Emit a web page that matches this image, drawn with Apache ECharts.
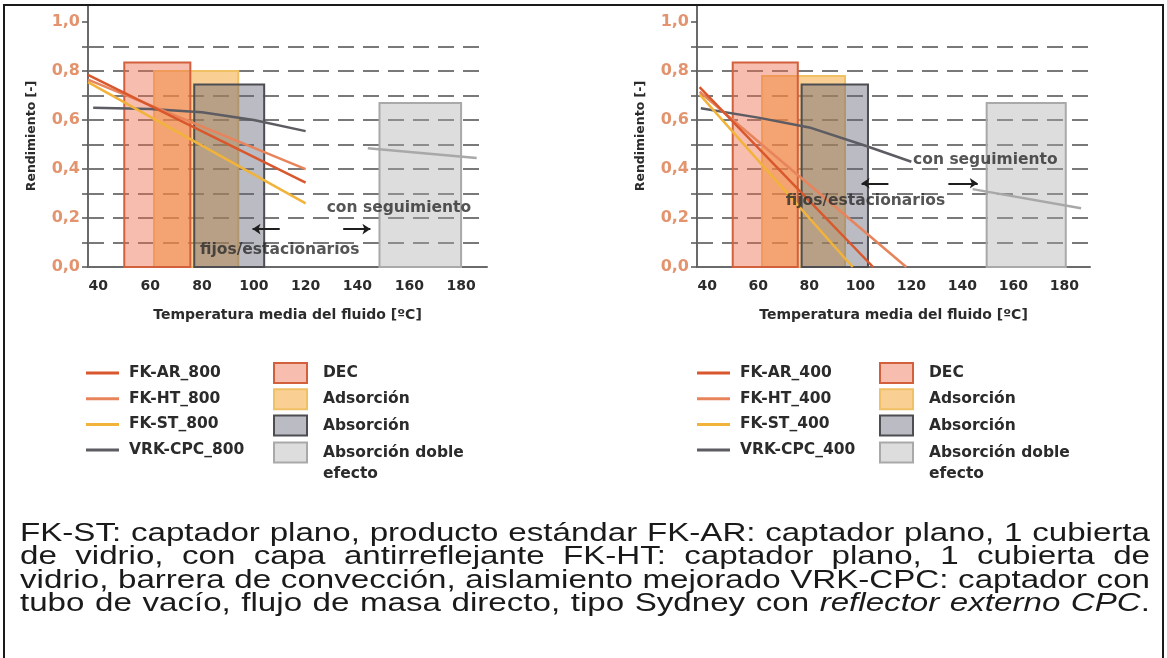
<!DOCTYPE html>
<html>
<head>
<meta charset="utf-8">
<script src="https://cdn.jsdelivr.net/npm/echarts@6/dist/echarts.min.js"></script>
<style>
html,body{margin:0;padding:0;background:#fff;}
#wrap{position:relative;width:1167px;height:658px;overflow:hidden;background:#fff;}
#chart{position:absolute;left:0;top:0;width:1167px;height:658px;}
#frame{position:absolute;left:3px;top:4px;width:1157px;height:700px;border:2px solid #1a1a1a;pointer-events:none;}
#note{position:absolute;left:20px;top:521px;font-family:'Liberation Sans',Arial,sans-serif;font-size:25px;line-height:23.4px;color:#1a1a1a;transform-origin:0 0;}
#note div{text-align:justify;text-align-last:justify;}
#note span{white-space:nowrap;}
</style>
</head>
<body>
<div id="wrap">
  <div id="chart"></div>
  <div id="frame"></div>
  <div id="note">
    <div><span>FK-ST: captador plano, producto estándar FK-AR: captador plano, 1 cubierta</span></div>
    <div><span>de vidrio, con capa antirreflejante FK-HT: captador plano, 1 cubierta de</span></div>
    <div><span>vidrio, barrera de convección, aislamiento mejorado VRK-CPC: captador con</span></div>
    <div><span>tubo de vacío, flujo de masa directo, tipo Sydney con <i>reflector externo CPC</i>.</span></div>
  </div>
</div>
<script>
// ---- data ----
const xLabelVals = [40, 60, 80, 100, 120, 140, 160, 180];
const yTickVals = [0, 0.1, 0.2, 0.3, 0.4, 0.5, 0.6, 0.7, 0.8, 0.9, 1.0];
const yLabelVals = [0, 0.2, 0.4, 0.6, 0.8, 1.0];

// boxes: [x start, x end, height]
const decLeft = [50, 75.5, 0.835];
const adsLeft = [61.5, 94, 0.80];
const absLeft = [77, 104, 0.745];
const dobleLeft = [148.5, 180, 0.67];
const decRight = [50, 75.5, 0.835];
const adsRight = [61.5, 94, 0.78];
const absRight = [77, 103, 0.745];
const dobleRight = [149.5, 180.5, 0.67];

// efficiency curves [temperature, efficiency]
const fkAr800 = [[36, 0.785], [120, 0.345]];
const fkHt800 = [[36, 0.765], [120, 0.40]];
const fkSt800 = [[36, 0.755], [120, 0.26]];
const vrk800 = [[38, 0.65], [60, 0.645], [80, 0.632], [100, 0.60], [120, 0.555]];
const vrkTrack800 = [[144, 0.485], [186, 0.445]];

const fkAr400 = [[37, 0.735], [105, 0]];
const fkHt400 = [[37, 0.716], [118, 0]];
const fkSt400 = [[37, 0.705], [97, 0]];
const vrk400 = [[37.5, 0.648], [60, 0.61], [80, 0.57], [102, 0.495], [120, 0.43]];
const vrkTrack400 = [[144, 0.318], [186.5, 0.24]];

// annotations [text, temperature, efficiency]
const notesLeft = [['con seguimiento', 156, 0.24], ['fijos/estacionarios', 110, 0.07]];
const notesRight = [['con seguimiento', 149, 0.437], ['fijos/estacionarios', 102, 0.27]];
const arrowsLeft = [[[110, 0.155], [99.5, 0.155]], [[134.5, 0.155], [145, 0.155]]];
const arrowsRight = [[[111, 0.342], [100.5, 0.342]], [[134.5, 0.342], [146, 0.342]]];

// ---- caption fit: justify each line to the full caption width ----
(function fitNote() {
  const note = document.getElementById('note');
  const spans = note.querySelectorAll('span');
  let w = 0;
  spans.forEach(s => { w = Math.max(w, s.getBoundingClientRect().width); });
  w = Math.ceil(w) + 2;
  note.style.width = w + 'px';
  note.style.transform = 'scaleX(' + (1130 / w) + ')';
})();

// ---- styles ----
const FONT = '"DejaVu Sans", sans-serif';
const TXT = '#2b2b2b';
const C = {
  ar: '#d9572c', ht: '#e8845c', st: '#f2b33a', vrk: '#5c5c62', track: '#a8a8a8',
  decFill: 'rgba(238,108,76,0.45)', decStroke: '#d2603c',
  adsFill: 'rgba(246,168,60,0.55)', adsStroke: '#f0c064',
  absFill: 'rgba(96,98,116,0.43)', absStroke: '#4d4d52',
  dobFill: 'rgba(170,170,170,0.4)', dobStroke: '#a9a9a9'
};

function xAxis(gi) {
  return {
    type: 'value', gridIndex: gi, min: 36, max: 190,
    axisLine: {show: true, onZero: false, lineStyle: {color: '#6a6a6a', width: 2}},
    axisTick: {show: false},
    axisLabel: {customValues: xLabelVals, color: TXT, fontSize: 14, fontWeight: 'bold', margin: 12, fontFamily: FONT},
    splitLine: {show: false},
    name: 'Temperatura media del fluido [ºC]', nameLocation: 'middle', nameGap: 41,
    nameTextStyle: {color: TXT, fontSize: 14, fontWeight: 'bold', fontFamily: FONT}
  };
}
function yAxis(gi) {
  return {
    type: 'value', gridIndex: gi, min: 0, max: 1.07,
    axisLine: {show: true, lineStyle: {color: '#6a6a6a', width: 2}},
    axisTick: {show: true, customValues: yTickVals, length: 6, lineStyle: {color: '#555', width: 1.5}},
    axisLabel: {customValues: yLabelVals, formatter: v => v.toFixed(1).replace('.', ','),
      color: '#e3946f', fontSize: 16, fontWeight: 'bold', margin: 8, fontFamily: FONT},
    splitLine: {show: true, showMaxLine: false, lineStyle: {type: [16, 9], color: '#4d4d4d', width: 1.5}},
    name: 'Rendimiento [-]', nameLocation: 'middle', nameGap: 50,
    nameTextStyle: {color: TXT, fontSize: 12.5, fontWeight: 'bold', fontFamily: FONT}
  };
}
function boxSeries(name, gi, arr, fill, stroke) {
  return {
    type: 'custom', name: name, xAxisIndex: gi, yAxisIndex: gi, data: [arr],
    encode: {x: [0, 1], y: 2}, silent: true, z: 1,
    itemStyle: {color: fill, borderColor: stroke, borderWidth: 2},
    renderItem: function (p, api) {
      const a = api.coord([api.value(0), api.value(2)]);
      const b = api.coord([api.value(1), 0]);
      return {type: 'rect', shape: {x: a[0], y: a[1], width: b[0] - a[0], height: b[1] - a[1]},
        style: {fill: fill, stroke: stroke, lineWidth: 2}};
    }
  };
}
function lineSeries(name, gi, data, color) {
  return {type: 'line', name: name, xAxisIndex: gi, yAxisIndex: gi, data: data, symbol: 'none',
    lineStyle: {color: color, width: 2.5}, itemStyle: {color: color}, silent: true, z: 3};
}
function noteSeries(gi, notes) {
  return {type: 'scatter', xAxisIndex: gi, yAxisIndex: gi, silent: true, z: 6,
    data: notes.map(n => ({value: [n[1], n[2]], name: n[0]})),
    symbolSize: 1, itemStyle: {color: 'rgba(0,0,0,0)'},
    label: {show: true, formatter: '{b}', position: 'inside', fontSize: 15.5, fontWeight: 'bold', color: TXT, fontFamily: FONT}};
}
function arrowSeries(gi, arrows) {
  return {type: 'lines', coordinateSystem: 'cartesian2d', xAxisIndex: gi, yAxisIndex: gi, silent: true, z: 6,
    data: arrows.map(c => ({coords: c})), symbol: ['none', 'arrow'], symbolSize: 8,
    lineStyle: {color: '#1e1e1e', width: 2, opacity: 1}};
}
function chartSeries(gi, sfx, dec, ads, abs, dob, ar, ht, st, vrk, trk, notes, arrows) {
  return [
    boxSeries('Adsorción', gi, ads, C.adsFill, C.adsStroke),
    boxSeries('DEC', gi, dec, C.decFill, C.decStroke),
    boxSeries('Absorción', gi, abs, C.absFill, C.absStroke),
    boxSeries('Absorción doble efecto', gi, dob, C.dobFill, C.dobStroke),
    lineSeries('VRK-CPC' + sfx, gi, vrk, C.vrk),
    lineSeries('VRK-CPC' + sfx + ' seguimiento', gi, trk, C.track),
    lineSeries('FK-ST' + sfx, gi, st, C.st),
    lineSeries('FK-HT' + sfx, gi, ht, C.ht),
    lineSeries('FK-AR' + sfx, gi, ar, C.ar),
    noteSeries(gi, notes),
    arrowSeries(gi, arrows)
  ];
}
function legends(sfx, lineLeft, boxLeft) {
  const ts = {fontSize: 15.5, fontWeight: 'bold', color: TXT, fontFamily: FONT, lineHeight: 18};
  return [
    {data: ['FK-AR', 'FK-HT', 'FK-ST', 'VRK-CPC'].map(n => n + sfx), orient: 'vertical', left: lineLeft, top: 364,
      padding: 0, icon: 'rect', itemWidth: 33, itemHeight: 3, itemGap: 7.7, selectedMode: false,
      textStyle: Object.assign({}, ts, {padding: [0, 0, 0, 5]})},
    {data: ['DEC', 'Adsorción', 'Absorción'], orient: 'vertical', left: boxLeft, top: 362, icon: 'rect',
      padding: 0, itemWidth: 33, itemHeight: 20, itemGap: 4.3, selectedMode: false,
      textStyle: Object.assign({}, ts, {padding: [0, 0, 0, 11]})},
    {data: ['Absorción doble efecto'], orient: 'vertical', left: boxLeft, top: 421, icon: 'rect',
      padding: 0, itemWidth: 33, itemHeight: 20, selectedMode: false,
      formatter: () => '\nAbsorción doble\nefecto',
      textStyle: Object.assign({}, ts, {padding: [0, 0, 0, 11], lineHeight: 21})}
  ];
}

const chart = echarts.init(document.getElementById('chart'), null, {renderer: 'canvas'});
chart.setOption({
  animation: false,
  backgroundColor: '#fff',
  textStyle: {fontFamily: FONT},
  grid: [
    {left: 88, top: 5, width: 399, height: 262},
    {left: 697, top: 5, width: 393, height: 262}
  ],
  xAxis: [xAxis(0), xAxis(1)],
  yAxis: [yAxis(0), yAxis(1)],
  legend: legends('_800', 86, 273).concat(legends('_400', 697, 879)),
  series: chartSeries(0, '_800', decLeft, adsLeft, absLeft, dobleLeft, fkAr800, fkHt800, fkSt800, vrk800, vrkTrack800, notesLeft, arrowsLeft)
    .concat(chartSeries(1, '_400', decRight, adsRight, absRight, dobleRight, fkAr400, fkHt400, fkSt400, vrk400, vrkTrack400, notesRight, arrowsRight))
});
</script>
</body>
</html>
